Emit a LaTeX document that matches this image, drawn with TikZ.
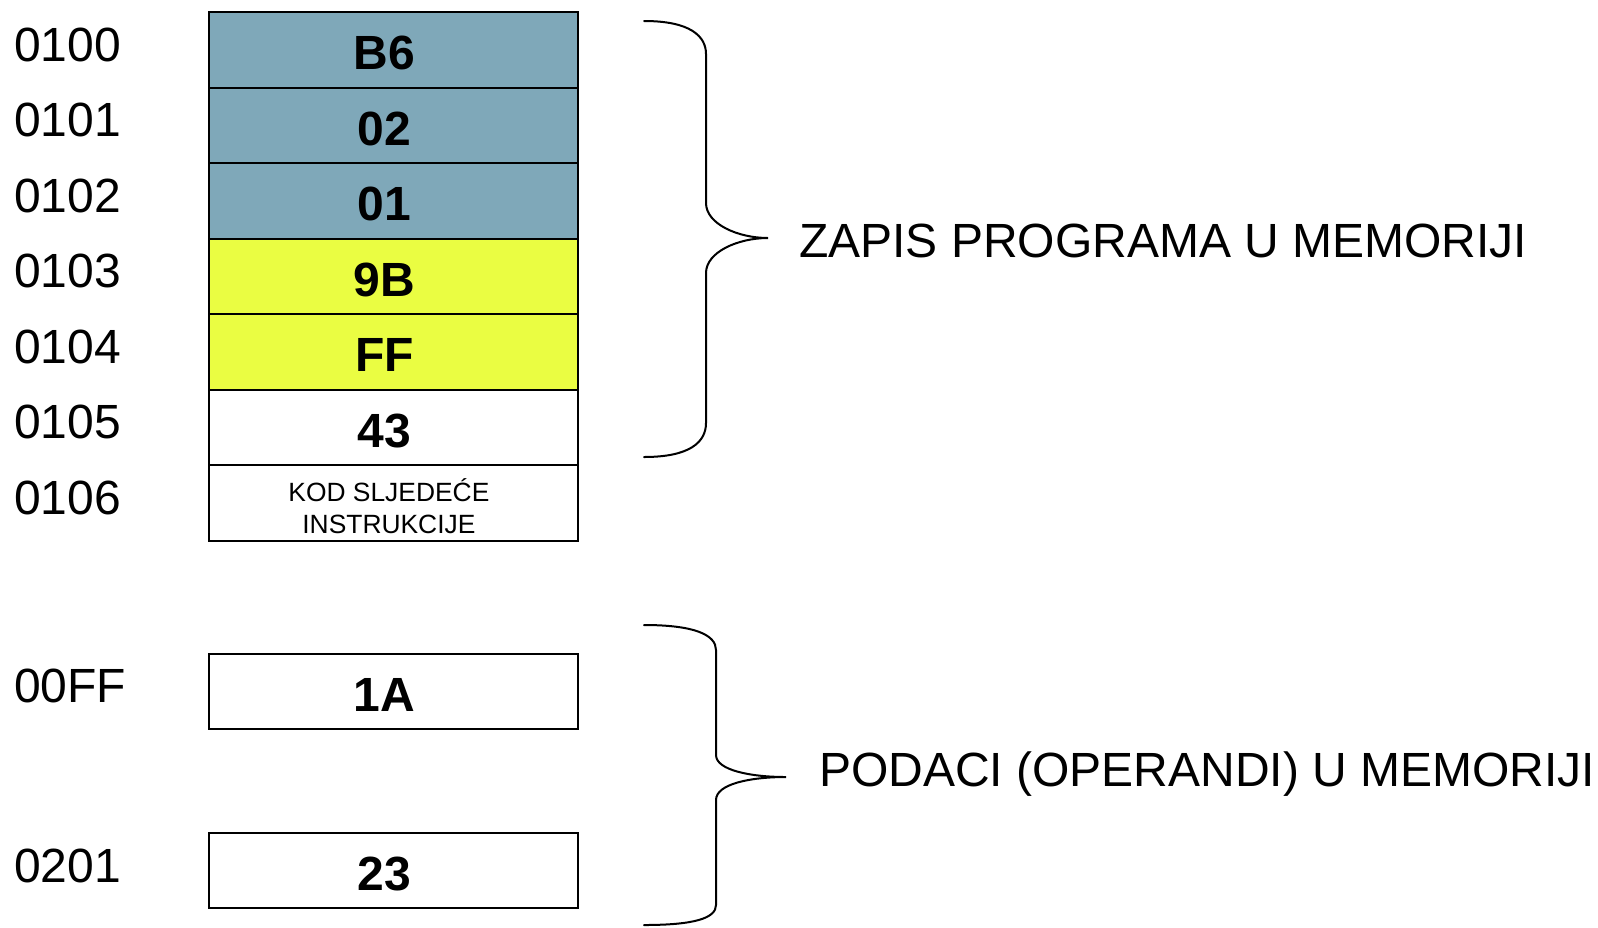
\documentclass[tikz,border=0pt]{standalone}
\usepackage{fontspec}
\setmainfont{Liberation Sans}
\usetikzlibrary{positioning}
\definecolor{progblue}{HTML}{7FA8B9}
\definecolor{progyellow}{HTML}{EAFD42}
\tikzset{
  cell/.style  = {draw=black, line width=1pt, minimum width=184.5pt, minimum height=37.75pt,
                  inner sep=0pt, outer sep=0pt},
  val/.style   = {inner sep=0pt, outer sep=0pt, xshift=-4.5pt, yshift=-1.5pt,
                  font=\fontsize{24}{26}\selectfont\bfseries},
  valsm/.style = {val, xshift=2.2pt, font=\fontsize{13.2}{16}\selectfont, align=center},
  addr/.style  = {anchor=base west, inner sep=0pt, outer sep=0pt, font=\fontsize{24}{26}\selectfont},
  note/.style  = {anchor=base west, inner sep=0pt, outer sep=0pt, font=\fontsize{24}{26}\selectfont},
  brace/.style = {draw=black, line width=1pt, line cap=round},
}
\begin{document}
\begin{tikzpicture}[x=0.5pt,y=-0.5pt]
\path[use as bounding box] (0,0) rectangle (1598,927);

% ---- program in memory --------------------------------------------------
\foreach \i/\v/\col/\adr in {0/B6/progblue/0100, 1/02/progblue/0101, 2/01/progblue/0102,
  3/9B/progyellow/0103, 4/FF/progyellow/0104, 5/43/white/0105} {
  \node[cell, fill=\col, label={[val]center:\v}] (cell\i) at (393.5,50+75.5*\i) {};
  \node[addr] (adr\i) at (14,61+75.5*\i) {\adr};
}
\node[cell, fill=white, label={[valsm]center:KOD SLJEDE\'CE\\INSTRUKCIJE}] (cell6) at (393.5,503) {};
\node[addr] (adr6) at (14,514) {0106};

\draw[brace] (644,21) .. controls (690,21) and (706,36) .. (706,54) -- (706,203)
  .. controls (706,224) and (738,238) .. (768,238)
  .. controls (738,238) and (706,252) .. (706,273) -- (706,423)
  .. controls (706,442) and (690,457) .. (644,457);
\node[note] (prog) at (799,257) {ZAPIS PROGRAMA U MEMORIJI};

% ---- operands in memory -------------------------------------------------
\node[cell, fill=white, label={[val]center:1A}] (opa) at (393.5,691.5) {};
\node[addr] (adra) at (14,702) {00FF};
\node[cell, fill=white, label={[val]center:23}] (opb) at (393.5,870.5) {};
\node[addr] (adrb) at (14,882) {0201};

\draw[brace] (644,625) .. controls (695,625) and (716,635) .. (716,650) -- (716,755)
  .. controls (716,770) and (750,777) .. (786,777)
  .. controls (750,777) and (716,784) .. (716,800) -- (716,905)
  .. controls (716,918) and (695,925) .. (644,925);
\node[note] (data) at (819,786) {PODACI (OPERANDI) U MEMORIJI};

\end{tikzpicture}
\end{document}
